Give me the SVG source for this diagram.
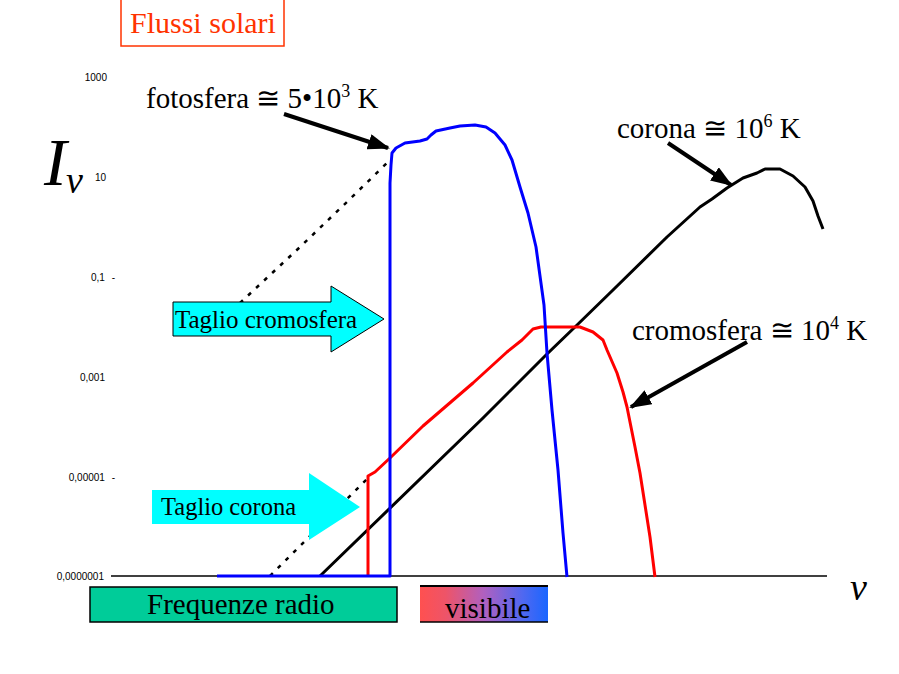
<svg xmlns="http://www.w3.org/2000/svg" width="899" height="674" viewBox="0 0 899 674">
<style>
.lbl{font-family:"Liberation Serif","DejaVu Serif",serif;fill:#000}
.big{font-size:29px}
.tick{font-family:"Liberation Sans","DejaVu Sans",sans-serif;font-size:10px;fill:#000;text-anchor:end}
.it{font-family:"Liberation Serif","DejaVu Serif",serif;font-style:italic;fill:#000}
.sup{font-size:18px}
.curve{fill:none;stroke-width:3;stroke-linejoin:round}
.dash{fill:none;stroke:#000;stroke-width:2.5;stroke-dasharray:4 7}
.conn{stroke:#000;stroke-width:4;fill:none}
</style>
<defs>
<marker id="ah" markerUnits="userSpaceOnUse" markerWidth="22" markerHeight="16" viewBox="0 0 22 16" refX="20" refY="8" orient="auto">
<path d="M0,0 L22,8 L0,16 z" fill="#000"/>
</marker>
<linearGradient id="vis" x1="0" y1="0" x2="1" y2="0">
<stop offset="0" stop-color="#FF5050"/>
<stop offset="0.2" stop-color="#EE5468"/>
<stop offset="0.5" stop-color="#B060C0"/>
<stop offset="0.8" stop-color="#5068F0"/>
<stop offset="1" stop-color="#1A66FF"/>
</linearGradient>
</defs>
<rect width="899" height="674" fill="#fff"/>

<g id="title">
<rect x="121" y="-1" width="163" height="47" fill="none" stroke="#FF3300" stroke-width="1.5"/>
<text class="lbl" x="130" y="33" font-size="30" fill="#FF3300" style="fill:#FF3300">Flussi solari</text>
</g>

<g id="axes">
<line x1="111" y1="576" x2="827" y2="576" stroke="#000" stroke-width="1.5"/>
<text class="tick" x="107" y="81">1000</text>
<text class="tick" x="106" y="181">10</text>
<text class="tick" x="115" y="281" word-spacing="4">0,1 -</text>
<text class="tick" x="105" y="381">0,001</text>
<text class="tick" x="115" y="481" word-spacing="4">0,00001 -</text>
<text class="tick" x="104" y="580">0,0000001</text>
<text class="it" x="44" y="185" font-size="68">I</text>
<text class="it" x="66" y="193" font-size="38">ν</text>
<text class="it" x="850" y="600" font-size="38">ν</text>
</g>

<g id="curves">
<path class="dash" d="M240,303 L300,247 L350,199 L390,160"/>
<path class="dash" d="M270,576 L368,478"/>
<path class="curve" stroke="#000" d="M320,576 L483,418 L547,354 L575,327 L613,290 L667,237 L700,207 L712,199 L727,188 L743,178 L757,173 L765,169 L780,169 L793,176 L805,187 L813,201 L818,216 L823,229"/>
<path class="curve" stroke="#FF0000" d="M368,576 L368,476 L375,472 L390,458 L423,426 L473,383 L507,352 L522,340 L526,336 L533,329 L541,327 L580,327 L593,332 L603,340 L607,350 L617,373 L623,392 L627,407 L635,447 L640,473 L645,505 L650,537 L655,577"/>
<path class="curve" stroke="#0000FF" d="M217,576 L390,576 L390,183 L391,165 L392,153 L396,148 L405,143 L420,141 L427,139 L431,135 L436,131 L450,128 L460,126 L475,125 L486,127 L495,133 L505,145 L512,160 L520,187 L528,213 L536,247 L544,305 L547,353 L552,410 L558,470 L563,533 L567,577"/>
</g>

<g id="taglio-cromosfera">
<polygon points="173,302 331,302 331,286 384,319 331,352 331,336 173,336" fill="#00FFFF" stroke="#000" stroke-width="1"/>
<text class="lbl" x="175" y="328" font-size="25">Taglio cromosfera</text>
</g>

<g id="taglio-corona">
<polygon points="152,490 309,490 309,473 360,507 309,540 309,524 152,524" fill="#00FFFF"/>
<text class="lbl" x="161" y="515" font-size="24.5">Taglio corona</text>
</g>

<g id="frequenze-radio">
<rect x="90" y="587" width="307" height="35" fill="#00CC99" stroke="#000" stroke-width="1.5"/>
<text class="lbl big" x="147" y="614">Frequenze radio</text>
</g>

<g id="visibile">
<rect x="420" y="586" width="128" height="36" fill="url(#vis)"/>
<line x1="420" y1="586" x2="548" y2="586" stroke="#000" stroke-width="2"/>
<line x1="420" y1="622" x2="548" y2="622" stroke="#000" stroke-width="1.5"/>
<text class="lbl big" x="445" y="618">visibile</text>
</g>

<g id="label-fotosfera">
<text class="lbl big" x="146" y="108">fotosfera ≅ 5•10<tspan class="sup" dy="-11">3</tspan><tspan dy="11"> K</tspan></text>
</g>
<g id="label-corona">
<text class="lbl big" x="617" y="138">corona ≅ 10<tspan class="sup" dy="-11">6</tspan><tspan dy="11"> K</tspan></text>
</g>
<g id="label-cromosfera">
<text class="lbl big" x="632" y="340">cromosfera ≅ 10<tspan class="sup" dy="-11">4</tspan><tspan dy="11"> K</tspan></text>
</g>

<g id="connectors">
<line class="conn" x1="284" y1="114" x2="388" y2="148" marker-end="url(#ah)"/>
<line class="conn" x1="668" y1="143" x2="731" y2="185" marker-end="url(#ah)"/>
<line class="conn" x1="747" y1="342" x2="631" y2="407" marker-end="url(#ah)"/>
</g>
</svg>
